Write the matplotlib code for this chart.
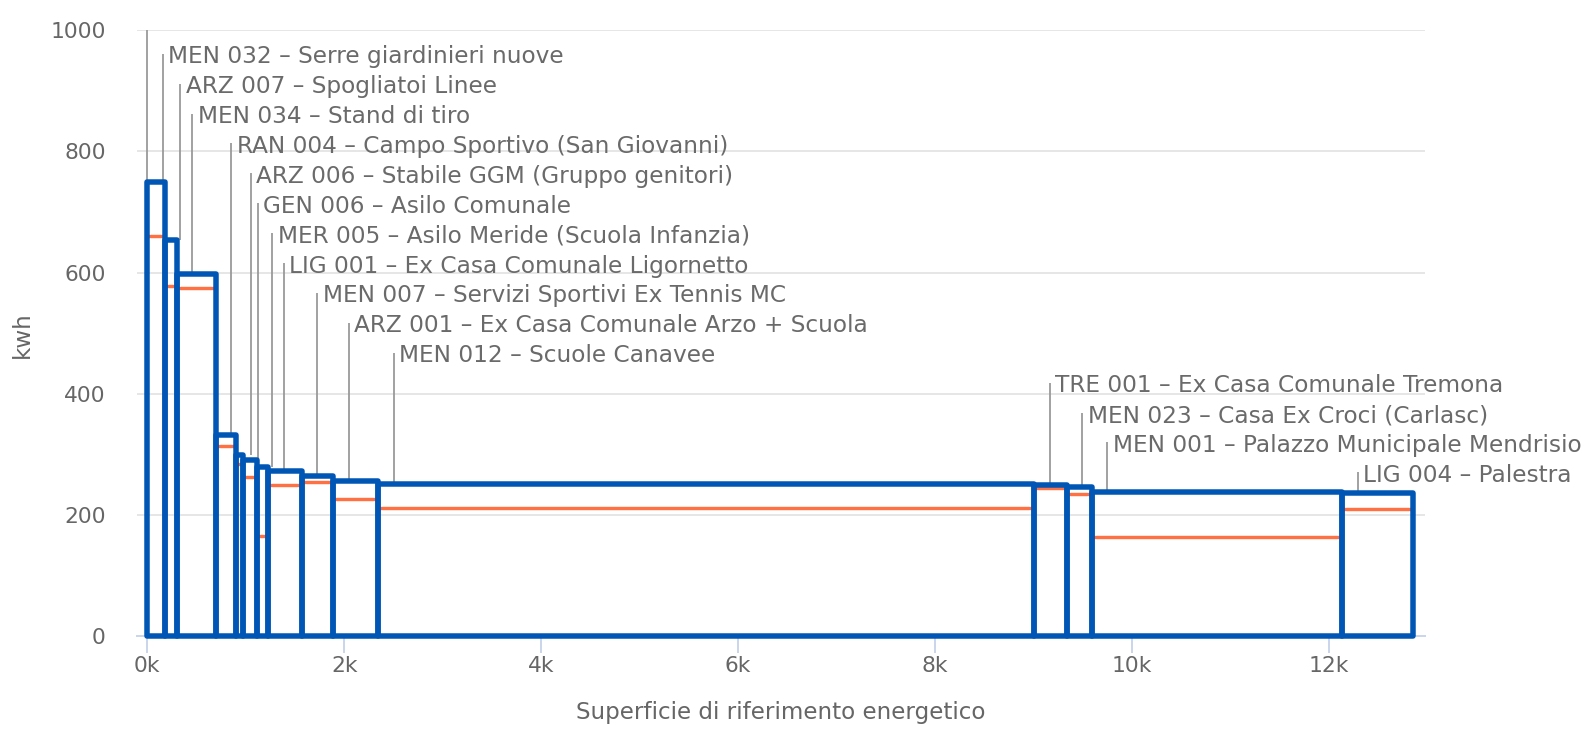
import numpy as np
import matplotlib
matplotlib.use("Agg")
import matplotlib.pyplot as plt
from matplotlib.ticker import FuncFormatter

# Buildings, ordered by consumption per m2
buildings = [
    "MEN 032 – Serre giardinieri nuove",
    "ARZ 007 – Spogliatoi Linee",
    "MEN 034 – Stand di tiro",
    "RAN 004 – Campo Sportivo (San Giovanni)",
    "ARZ 006 – Stabile GGM (Gruppo genitori)",
    "GEN 006 – Asilo Comunale",
    "MER 005 – Asilo Meride (Scuola Infanzia)",
    "LIG 001 – Ex Casa Comunale Ligornetto",
    "MEN 007 – Servizi Sportivi Ex Tennis MC",
    "ARZ 001 – Ex Casa Comunale Arzo + Scuola",
    "MEN 012 – Scuole Canavee",
    "TRE 001 – Ex Casa Comunale Tremona",
    "MEN 023 – Casa Ex Croci (Carlasc)",
    "MEN 001 – Palazzo Municipale Mendrisio",
    "LIG 004 – Palestra",
]
# Energy reference area (m2) -> bar widths
area = [180, 119, 399, 198, 71, 144, 118, 339, 321, 457, 6664, 329, 257, 2542, 721]
# Consumption (kwh per m2): outlined bars and the reference line inside each bar
consumption = [750, 654, 597, 332, 299, 290, 280, 272, 264, 256, 251, 250, 246, 238, 236]
reference = [661, 577, 575, 314, 285, 263, 165, 250, 255, 226, 212, 244, 234, 163, 210]

y_ticks = [0, 200, 400, 600, 800, 1000]
x_ticks = [0, 2000, 4000, 6000, 8000, 10000, 12000]

BLUE = "#0056B5"
ORANGE = "#FF7043"
GRID = "#E6E6E6"
AXIS = "#CCD6EB"
TEXT = "#666666"
LEADER = "#999999"

W, H, DPI = 1593, 729, 100
PX = 72.0 / DPI  # points per pixel

fig = plt.figure(figsize=(W / DPI, H / DPI), dpi=DPI)
ax = fig.add_axes([136.7 / W, 1 - 636.3 / H, (1425 - 136.7) / W, (636.3 - 30) / H])

area = np.array(area, dtype=float)
left = np.concatenate([[0.0], np.cumsum(area)[:-1]])
right = left + area

# reference values as horizontal segments inside each bar
ax.hlines(reference, left, right, colors=ORANGE, linewidth=3.4 * PX, zorder=3)

# variable-width outlined bars
ax.bar(left, consumption, width=area, align="edge", fill=False,
       edgecolor=BLUE, linewidth=5.5 * PX, zorder=4, clip_on=False,
       joinstyle="round")

ax.set_xlim(-107.7, 12978)
ax.set_ylim(0, 1000)

# connector and label for each building, stacked downward
label_offset = 155
top0, step = 1010, 49.3
ax.vlines(0, consumption[0], 1000, colors=LEADER, linewidth=1.8 * PX, zorder=2)
for k, (name, x0, val) in enumerate(zip(buildings, left, consumption), start=1):
    xa = x0 + label_offset
    ytop = top0 - step * k
    ax.plot([xa, xa], [val, ytop], color=LEADER, linewidth=1.8 * PX,
            zorder=2, solid_capstyle="butt")
    ax.annotate(name, (xa, ytop), xytext=(5.7 * PX, -9.5 * PX),
                textcoords="offset points", ha="left", va="baseline",
                fontsize=23.3 * PX, color="#6A6A6A", zorder=5)

# axes styling
for s in ("top", "right", "left"):
    ax.spines[s].set_visible(False)
ax.spines["bottom"].set_color(AXIS)
ax.spines["bottom"].set_linewidth(2 * PX)
ax.spines["bottom"].set_zorder(1)

ax.set_yticks(y_ticks)
ax.set_xticks(x_ticks)
ax.xaxis.set_major_formatter(FuncFormatter(lambda v, p: f"{int(v / 1000)}k"))
ax.yaxis.grid(True, color=GRID, linewidth=2 * PX, zorder=0)
ax.set_axisbelow(True)

ax.tick_params(axis="y", length=0, pad=30.7 * PX, labelsize=21.8 * PX, labelcolor=TEXT)
ax.tick_params(axis="x", length=17 * PX, width=2 * PX, color=AXIS, pad=3 * PX,
               labelsize=21.8 * PX, labelcolor=TEXT)

ax.text(0.5, (636.3 - 713) / 606.3, "Superficie di riferimento energetico",
        transform=ax.transAxes, ha="center", va="center",
        fontsize=23 * PX, color=TEXT)
fig.text(22.4 / W, 1 - 335 / H, "kwh", rotation=90, ha="center", va="center",
         fontsize=23 * PX, color=TEXT)

fig.savefig("out.png", dpi=DPI)
